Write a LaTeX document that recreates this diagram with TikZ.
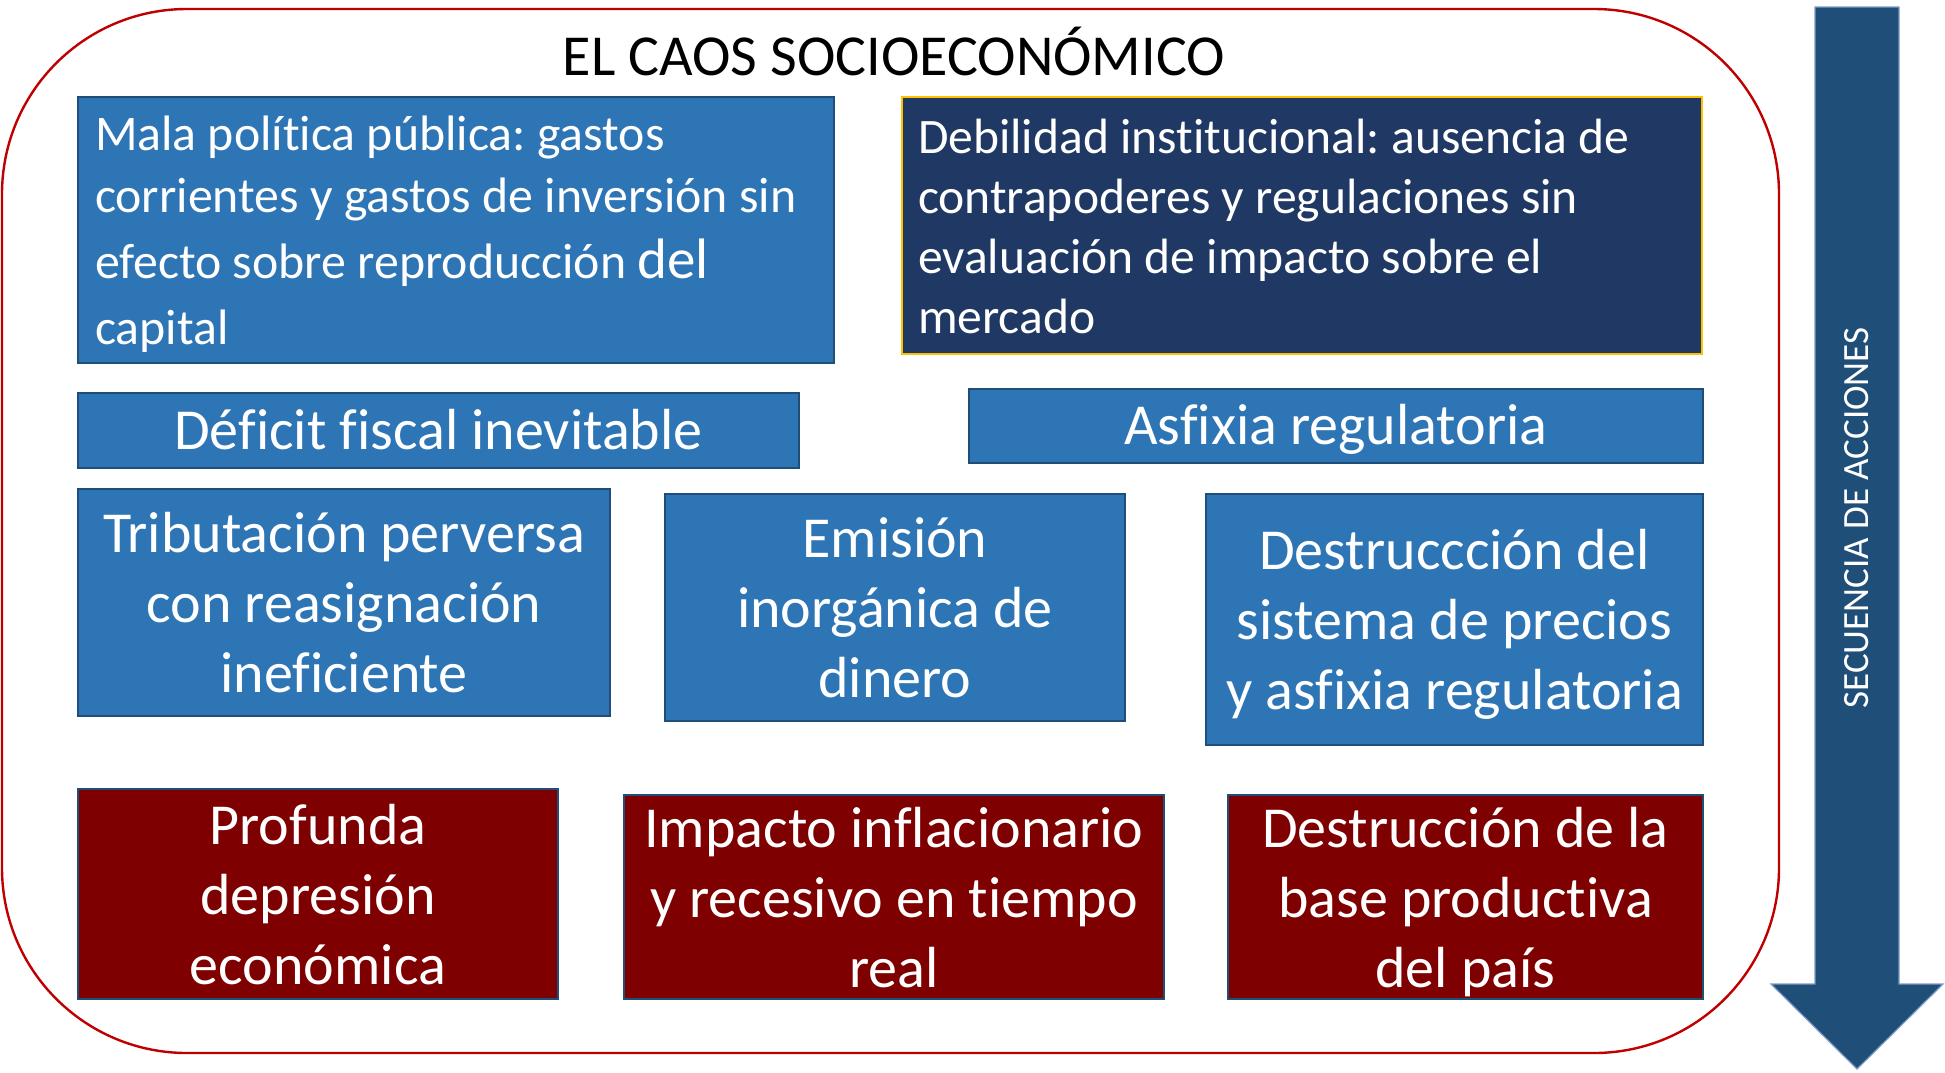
\documentclass[tikz,border=0pt]{standalone}
\usepackage{fontspec}
\setmainfont{Carlito}[Ligatures={NoCommon,NoContextual}, RawFeature={-liga;-clig;-calt;-dlig}]
\frenchspacing
\definecolor{boxblue}{HTML}{2E75B6}
\definecolor{edgeblue}{HTML}{1F4E79}
\definecolor{navy}{HTML}{203864}
\definecolor{gold}{HTML}{FFC000}
\definecolor{maroon}{HTML}{7F0000}
\definecolor{frame}{HTML}{C00000}
\definecolor{arrowblue}{HTML}{1F4E79}
\definecolor{arrowedge}{HTML}{7C9CC4}
\newcommand\bigstrut{\rule[-12pt]{0pt}{64pt}}
\newcommand\smallstrut{\rule[-10pt]{0pt}{55pt}}
\begin{document}
\begin{tikzpicture}[x=1pt,y=-1pt,
  card/.style={rectangle, draw=edgeblue, line width=2.2pt, text=white, inner sep=0pt, align=center},
  bluecard/.style={card, fill=boxblue},
  redcard/.style={card, fill=maroon},
  oneline/.style={text height=52pt, text depth=15pt},
  big/.style={font=\fontsize{58}{70}\selectfont},
  small/.style={font=\fontsize{49.8}{61.5}\selectfont}]
\useasboundingbox (0,0) rectangle (1945,1072);
\fill[white] (0,0) rectangle (1945,1072);
% outer frame
\draw[frame, line width=2.4pt, rounded corners=185pt] (2,9) rectangle (1779,1053);
\node[font=\fontsize{58}{69}\selectfont] (title) at (894,51) {EL CAOS SOCIOECONÓMICO};
% arrow
\draw[arrowedge, line width=1.2pt, fill=arrowblue] (1815,7) -- (1899,7) -- (1899,984) -- (1943,984) -- (1857,1069) -- (1771,984) -- (1815,984) -- cycle;
\node[rotate=90, text=white, font=\fontsize{37}{44}\selectfont] (seq) at (1857,518) {SECUENCIA DE ACCIONES};
% row 1
\node[bluecard, small, minimum width=756pt, minimum height=266pt, text width=722pt, align=flush left] (b1) at (456,230)
 {\smallstrut Mala política pública: gastos\\corrientes y gastos de inversión sin\\[5pt]efecto sobre reproducción {\fontsize{57}{63}\selectfont del}\\[4pt]capital\smallstrut};
\node[card, fill=navy, draw=gold, font=\fontsize{49.6}{60}\selectfont, minimum width=800pt, minimum height=257pt, text width=768pt, align=flush left] (b2) at (1302,225.5)
 {\smallstrut Debilidad institucional: ausencia de\\contrapoderes y regulaciones sin\\evaluación de impacto sobre el\\mercado\smallstrut};
% row 2
\node[bluecard, big, oneline, minimum width=721pt, minimum height=75pt] (b3) at (438.5,430.5) {Déficit fiscal inevitable};
\node[bluecard, big, oneline, minimum width=734pt, minimum height=74pt] (b4) at (1336,426) {Asfixia regulatoria};
% row 3
\node[bluecard, big, minimum width=532pt, minimum height=227pt] (b5) at (344,602.5) {\bigstrut Tributación perversa\\con reasignación\\ineficiente\bigstrut};
\node[bluecard, big, minimum width=460pt, minimum height=227pt] (b6) at (895,607.5) {\bigstrut Emisión\\inorgánica de\\dinero\bigstrut};
\node[bluecard, big, minimum width=497pt, minimum height=251pt] (b7) at (1454.5,619.5) {\bigstrut Destruccción del\\sistema de precios\\y asfixia regulatoria\bigstrut};
% row 4
\node[redcard, big, minimum width=480pt, minimum height=210pt] (b8) at (318,894) {\bigstrut Profunda\\depresión\\económica\bigstrut};
\node[redcard, big, minimum width=540pt, minimum height=204pt] (b9) at (894,897) {\bigstrut Impacto inflacionario\\y recesivo en tiempo\\real\bigstrut};
\node[redcard, big, minimum width=475pt, minimum height=204pt] (b10) at (1465.5,897) {\bigstrut Destrucción de la\\base productiva\\del país\bigstrut};
\end{tikzpicture}
\end{document}
